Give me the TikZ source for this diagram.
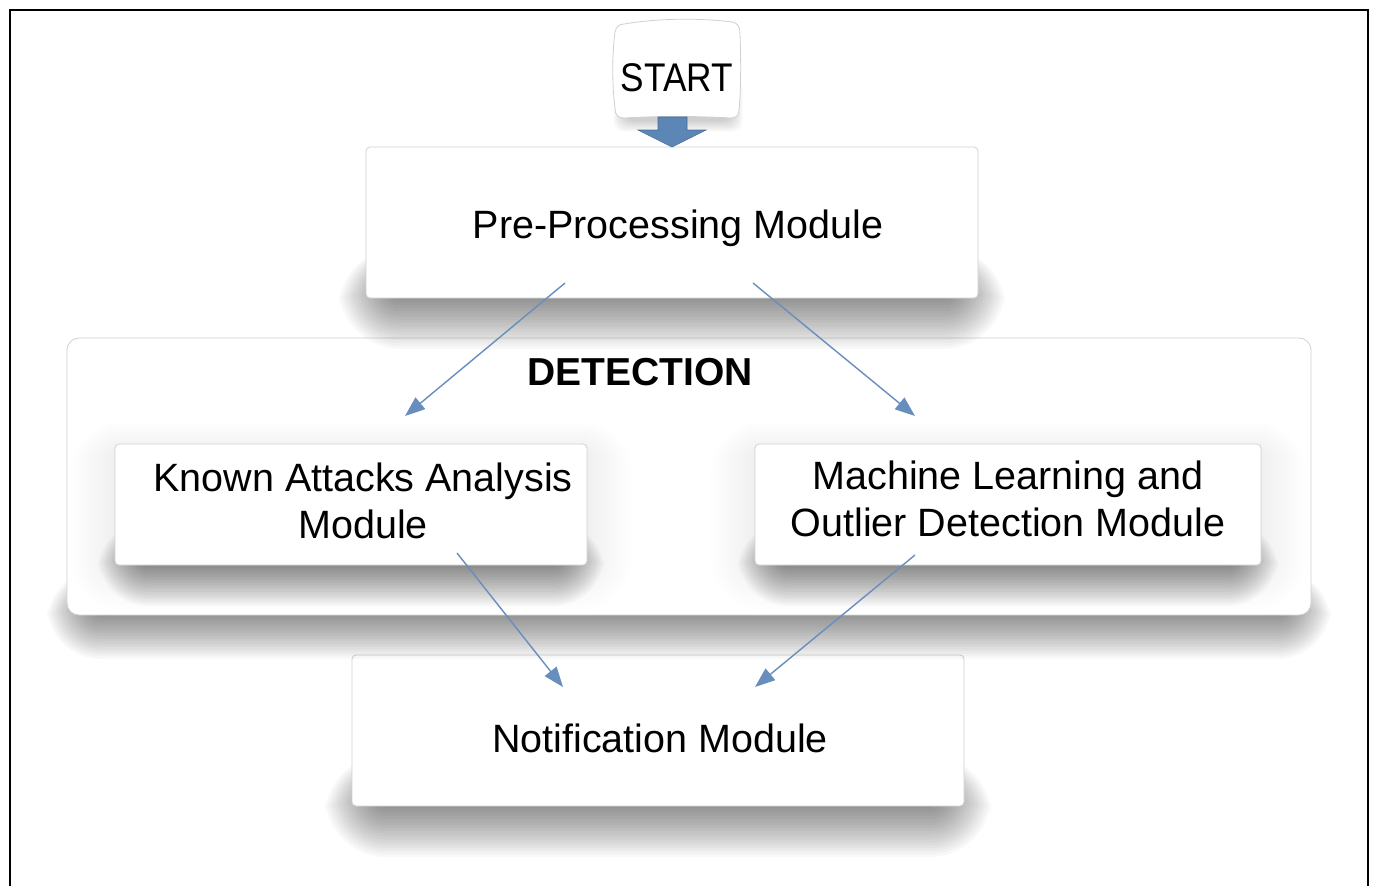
\documentclass[tikz,border=0pt]{standalone}
\usepackage{fontspec}
\setmainfont{Liberation Sans}
\usetikzlibrary{arrows.meta}
\definecolor{arrowblue}{RGB}{104,142,190}
\definecolor{startblue}{RGB}{91,134,181}
\definecolor{startedge}{RGB}{70,108,150}
\definecolor{boxedge}{RGB}{208,208,208}
\tikzset{
  modbox/.style={draw=boxedge, line width=0.8pt, fill=white, rounded corners=4pt, inner sep=0pt},
  modtext/.style={font=\fontsize{39.5}{47}\selectfont, align=center, inner sep=0pt, text=black},
  flow/.style={draw=arrowblue, line width=1.4pt, -{Triangle[length=20pt,width=15pt]}, fill=arrowblue},
}
% x1,y1,x2,y2,dy,spread : soft drop shadow below a box
\newcommand\softshadow[6]{%
  \foreach \i [evaluate=\i as \s using #6*\i/19, evaluate=\i as \r using 6+#6*\i/19] in {0,...,19}{%
    \fill[black,opacity=0.026,rounded corners=\r pt] ({#1+28-\s},{#4-12-0.7*\s}) rectangle ({#3-28+\s},{#4+#5-26+\s});
  }}
% x1,y1,x2,y2 : faint halo round a box
\newcommand\softhalo[4]{%
  \foreach \i [evaluate=\i as \s using 3*\i, evaluate=\i as \r using 6+3*\i] in {0,...,15}{%
    \fill[black,opacity=0.004,rounded corners=\r pt] ({#1-\s},{#2+8-2*\i}) rectangle ({#3+\s},{#4+\s});
  }}
\begin{document}
\begin{tikzpicture}[x=1pt,y=-1pt]
\useasboundingbox (0,0) rectangle (1376,886);
\fill[white] (0,0) rectangle (1376,886);
\draw[line width=2pt, black] (10,886) -- (10,10) -- (1368,10) -- (1368,886);

% Notification module
\softshadow{352}{655}{964}{806}{22}{55}
\node[modbox, minimum width=612, minimum height=151] (notif) at (658,730.5) {};

% DETECTION container
\softshadow{67}{338}{1311}{615}{22}{48}
\node[modbox, rounded corners=12pt, minimum width=1244, minimum height=277] (det) at (689,476.5) {};

% inner boxes
\softhalo{115}{444}{587}{565}
\softhalo{755}{444}{1261}{565}
\softshadow{115}{444}{587}{565}{22}{45}
\softshadow{755}{444}{1261}{565}{22}{45}
\node[modbox, minimum width=472, minimum height=121] (known) at (351,504.5) {};
\node[modbox, minimum width=506, minimum height=121] (ml) at (1008,504.5) {};

% Pre-processing
\softshadow{366}{147}{978}{298}{22}{55}
\node[modbox, minimum width=612, minimum height=151] (pre) at (672,222.5) {};

% START
\foreach \i in {0,...,7}{%
  \fill[black,opacity=0.025,rounded corners=10pt] ({624-1.5*\i},{90-1.5*\i}) rectangle ({732+1.5*\i},{121+1.5*\i});
}
\draw[draw=boxedge, line width=0.8pt, fill=white]
  (624,24) .. controls (660,18) and (700,18) .. (732,22)
  .. controls (738,23) and (740,27) .. (740,34)
  .. controls (741,60) and (741,90) .. (739,110)
  .. controls (739,116) and (736,118) .. (730,118)
  .. controls (700,116) and (655,116) .. (624,118)
  .. controls (618,118) and (615,115) .. (615,108)
  .. controls (612,85) and (612,55) .. (615,32)
  .. controls (616,27) and (619,24) .. (624,24) -- cycle;
\node[modtext, font=\fontsize{40}{46}\selectfont, xscale=0.88, anchor=base] (start) at (677,91) {START};
\draw[draw=startedge, line width=0.6pt, fill=startblue]
  (658,117) -- (687,117) -- (687,130) -- (706,130) -- (672,147) -- (638,130) -- (658,130) -- cycle;

% texts
\node[modtext, anchor=base] (pretext) at (678,238) {Pre-Processing Module};
\node[modtext, font=\bfseries\fontsize{39}{47}\selectfont, anchor=base] (dettext) at (640,385) {DETECTION};
\node[modtext] (knowntext) at (363,501) {Known Attacks Analysis\\Module};
\node[modtext] (mltext) at (1008,499) {Machine Learning and\\Outlier Detection Module};
\node[modtext, anchor=base] (notiftext) at (660,752) {Notification Module};

% connectors
\coordinate (p1) at (565,283); \coordinate (k1) at (405,416);
\coordinate (p2) at (753,283); \coordinate (m1) at (915,416);
\coordinate (k2) at (457,553); \coordinate (n1) at (563,687);
\coordinate (m2) at (915,555); \coordinate (n2) at (755,687);
\draw[flow] (p1) -- (k1);
\draw[flow] (p2) -- (m1);
\draw[flow] (k2) -- (n1);
\draw[flow] (m2) -- (n2);
\end{tikzpicture}
\end{document}
